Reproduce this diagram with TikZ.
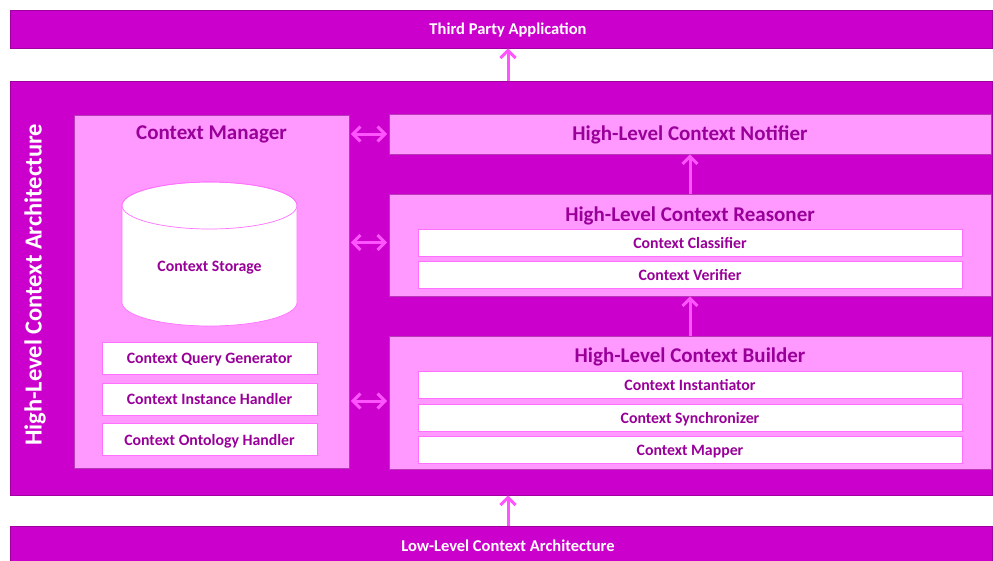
\documentclass[tikz,border=0pt]{standalone}
\usepackage{fontspec}
\setmainfont{Carlito}
\usetikzlibrary{arrows.meta}
\definecolor{magent}{HTML}{CC00CC}
\definecolor{magentedge}{HTML}{A000A0}
\definecolor{pinkfill}{HTML}{FF99FF}
\definecolor{pinkedge}{HTML}{B838B8}
\definecolor{labelpurple}{HTML}{990099}
\definecolor{arrowpink}{HTML}{FF55FF}
\definecolor{whiteedge}{HTML}{FF70FF}
\tikzset{
  bandfont/.style={font=\bfseries\fontsize{16.5}{19}\selectfont},
  itemfont/.style={font=\bfseries\fontsize{15.8}{18}\selectfont},
  bandbox/.style={draw=magentedge, line width=0.8pt, fill=magent, inner sep=0pt},
  bandtext/.style={text=white, bandfont, inner sep=0pt},
  pinkbox/.style={draw=pinkedge, line width=0.7pt, fill=pinkfill, inner sep=0pt},
  itembox/.style={draw=whiteedge, line width=1pt, fill=white, text=labelpurple,
    itemfont, inner sep=0pt, text depth=0pt},
  titletext/.style={text=labelpurple, font=\bfseries\fontsize{21}{24}\selectfont, inner sep=0pt},
  barb/.tip={Straight Barb[length=7.5pt,width=15pt,line width=3pt]},
  arr/.style={draw=arrowpink, line width=3pt, barb-barb},
  uparr/.style={draw=arrowpink, line width=3pt, -barb}
}
\begin{document}
\begin{tikzpicture}[x=1pt,y=-1pt]
\useasboundingbox[fill=white] (0,0) rectangle (993,560);

% outer bands and main frame
\node[bandbox, minimum width=982pt, minimum height=38pt] (tpa) at (501,29) {};
\node[bandtext] (tpatext) at (508,30) {Third Party Application};
\node[bandbox, minimum width=982pt, minimum height=414pt] (main) at (501,288) {};
\node[bandbox, minimum width=982pt, minimum height=40pt] (lla) at (501,546) {};
\node[bandtext] (llatext) at (508,546) {Low-Level Context Architecture};
\node[text=white, font=\bfseries\fontsize{24.5}{28}\selectfont, rotate=90, inner sep=0pt] (archlabel) at (35,285) {High-Level Context Architecture};

% context manager
\node[pinkbox, minimum width=275pt, minimum height=353pt] (cm) at (211.5,291.5) {};
\node[titletext] (cmtitle) at (211.5,134) {Context Manager};
\fill[white, draw=whiteedge, line width=0.7pt] (122,205.5) -- (122,302.5)
  arc[start angle=180, end angle=0, x radius=87.5, y radius=23.5] -- (297,205.5)
  arc[start angle=0, end angle=-180, x radius=87.5, y radius=23.5] -- cycle;
\draw[whiteedge, line width=0.7pt] (209.5,205.5) ellipse[x radius=87.5, y radius=23.5];
\node[text=labelpurple, itemfont, inner sep=0pt] (storage) at (209.5,268) {Context Storage};
\node[itembox, minimum width=215pt, minimum height=32pt] (qgen) at (209.5,358) {Context Query Generator};
\node[itembox, minimum width=215pt, minimum height=32pt] (inst) at (209.5,399) {Context Instance Handler};
\node[itembox, minimum width=215pt, minimum height=32pt] (onto) at (209.5,439.5) {Context Ontology Handler};

% notifier
\node[pinkbox, minimum width=602pt, minimum height=40pt] (noti) at (690,134) {};
\node[titletext] (notitext) at (690,135) {High-Level Context Notifier};

% reasoner
\node[pinkbox, minimum width=602pt, minimum height=102pt] (reas) at (690,245) {};
\node[titletext] (reastitle) at (690,215.5) {High-Level Context Reasoner};
\node[itembox, minimum width=544pt, minimum height=27pt] (classif) at (690,242.5) {Context Classifier};
\node[itembox, minimum width=544pt, minimum height=27pt] (verif) at (690,274.5) {Context Verifier};

% builder
\node[pinkbox, minimum width=602pt, minimum height=133pt] (build) at (690,402.5) {};
\node[titletext] (buildtitle) at (690,356.5) {High-Level Context Builder};
\node[itembox, minimum width=544pt, minimum height=27pt] (instant) at (690,384.5) {Context Instantiator};
\node[itembox, minimum width=544pt, minimum height=27pt] (sync) at (690,417.5) {Context Synchronizer};
\node[itembox, minimum width=544pt, minimum height=27pt] (mapper) at (690,450) {Context Mapper};

% connectors
\coordinate (col) at (508,0);
\draw[uparr] (main.north -| col) -- (tpa.south -| col);
\draw[uparr] (lla.north -| col) -- (main.south -| col);
\draw[uparr] (reas.north) -- (noti.south);
\draw[uparr] (build.north -| reas.south) -- (reas.south);
\draw[arr, shorten <=1.5pt, shorten >=1.5pt] (cm.east |- noti.west) -- (noti.west);
\draw[arr, shorten <=1.5pt, shorten >=1.5pt] (cm.east |- classif.west) -- (classif.west -| reas.west);
\draw[arr, shorten <=1.5pt, shorten >=1.5pt] (cm.east |- 0,401) -- (build.west |- 0,401);
\end{tikzpicture}
\end{document}
